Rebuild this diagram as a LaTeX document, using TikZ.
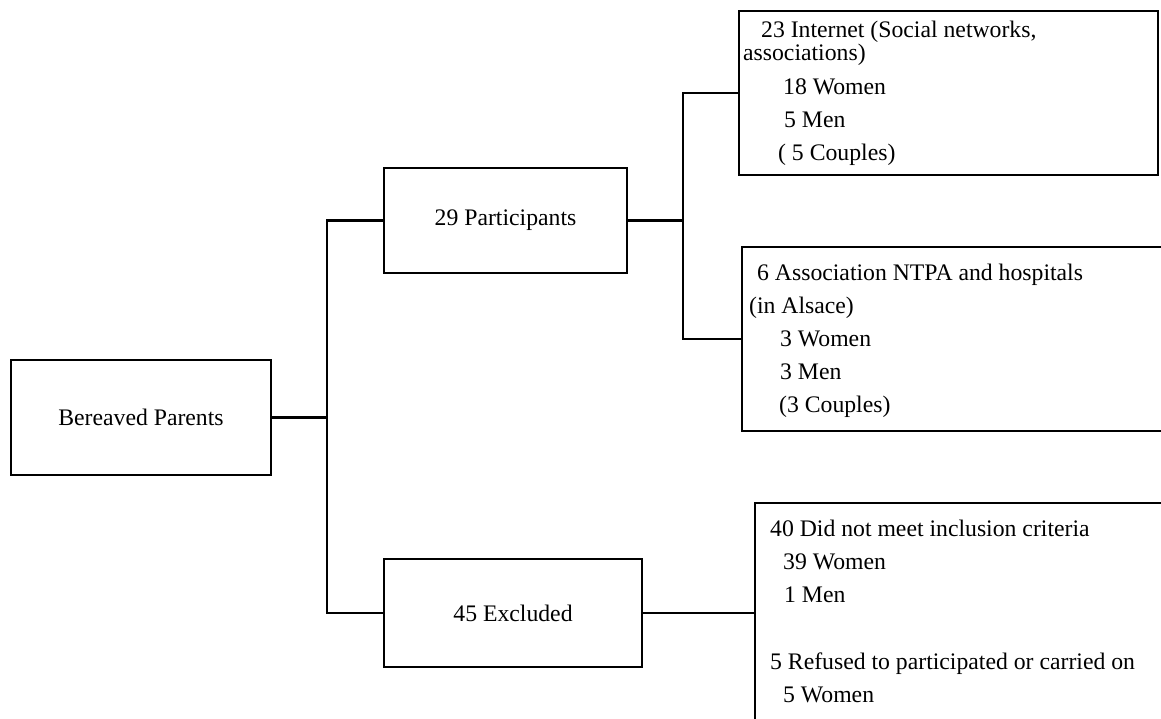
\documentclass[tikz,border=0pt]{standalone}
\usepackage{fontspec}
\setmainfont{Liberation Serif}
\usetikzlibrary{calc}

\begin{document}
\begin{tikzpicture}[x=0.02cm,y=-0.02cm,line width=1.3pt,
  box/.style={draw,rectangle,inner sep=0pt,font=\fontsize{13.5}{16}\selectfont},
  txt/.style={anchor=base west,inner sep=0pt,font=\fontsize{13.5}{16}\selectfont}]
\useasboundingbox (0,0) rectangle (1161,718);
\clip (0,0) rectangle (1161,718);
% left and middle boxes
\node[box,minimum width=5.2cm,minimum height=2.3cm] (parents) at (141,417.5) {Bereaved Parents};
\node[box,minimum width=4.86cm,minimum height=2.1cm] (part) at (505.5,220.5) {29 Participants};
\node[box,minimum width=5.16cm,minimum height=2.16cm] (excl) at (513,613) {45 Excluded};
% right boxes (the two lower ones run off the page)
\node[box,minimum width=8.38cm,minimum height=3.28cm] (inet) at (948.5,93) {};
\node[box,minimum width=8.66cm,minimum height=3.68cm] (assoc) at (958.5,339) {};
\node[box,minimum width=8.4cm,minimum height=4.4cm] (exclr) at (965,613) {};
% connectors
\coordinate (fork1) at (327,417.5);
\coordinate (fork2) at (683,220.5);
\draw (parents.east) -- (fork1);
\draw (part.west) -| (fork1) |- (excl.west);
\draw (part.east) -- (fork2);
\draw (inet.west) -| (fork2) |- (assoc.west);
\draw (excl.east) -- (exclr.west);
% texts
\node[txt] (inet1) at (760,37) {23 Internet (Social networks,};
\node[txt] (inet2) at (742,60.5) {associations)};
\node[txt] (inet3) at (782,94.5) {18 Women};
\node[txt] (inet4) at (783,127.5) {5 Men};
\node[txt] (inet5) at (777,160.5) {( 5 Couples)};
\node[txt] (assoc1) at (756,280) {6 Association NTPA and hospitals};
\node[txt] (assoc2) at (748,313) {(in Alsace)};
\node[txt] (assoc3) at (779,346) {3 Women};
\node[txt] (assoc4) at (779,379) {3 Men};
\node[txt] (assoc5) at (778,412) {(3 Couples)};
\node[txt] (exclr1) at (769,536) {40 Did not meet inclusion criteria};
\node[txt] (exclr2) at (782,569) {39 Women};
\node[txt] (exclr3) at (783,602) {1 Men};
\node[txt] (exclr4) at (769,669) {5 Refused to participated or carried on};
\node[txt] (exclr5) at (782,702) {5 Women};
\end{tikzpicture}
\end{document}
